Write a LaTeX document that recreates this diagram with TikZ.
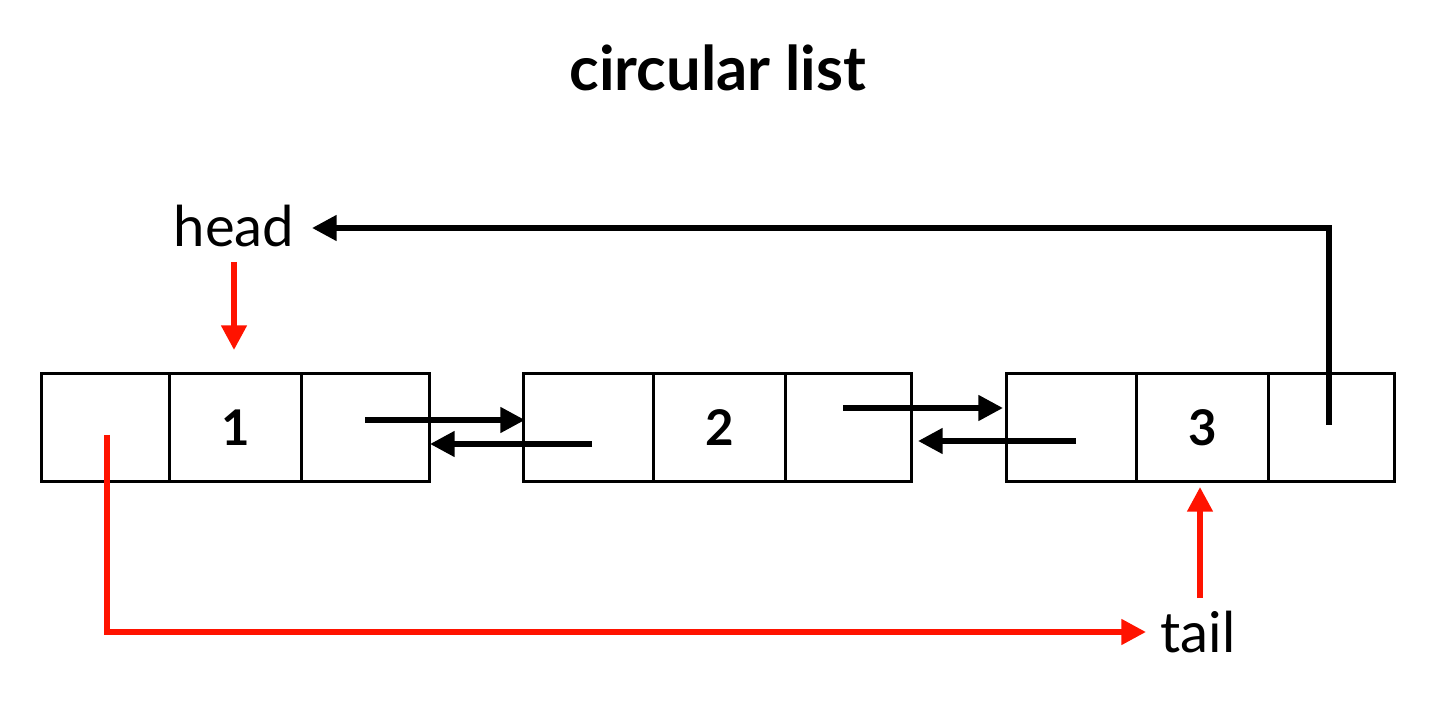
\documentclass[tikz,border=0pt]{standalone}
\usepackage{fontspec}
\setmainfont{Lato}
\usetikzlibrary{arrows.meta}
\begin{document}
\begin{tikzpicture}[x=0.02cm,y=-0.02cm,
  cell/.style={draw,line width=1.8pt,minimum width=#1*0.02cm,minimum height=108*0.02cm,inner sep=0,anchor=north west},
  num/.style={font=\bfseries\fontsize{28}{30}\selectfont},
  lbl/.style={font=\fontsize{32}{34}\selectfont},
  blk/.style={line width=3.2pt,-{Triangle[length=14pt,width=14pt]}},
  redarr/.style={line width=3.2pt,red!85!orange,-{Triangle[length=14pt,width=14pt]}}]
\useasboundingbox (0,0) rectangle (1436,712);
\node[font=\bfseries\fontsize{35}{37}\selectfont] (title) at (718,68) {circular list};
% node 1
\node[cell=128] (a1) at (40,372) {};
\node[cell=132,num] (a2) at (168,372) {1};
\node[cell=128] (a3) at (300,372) {};
% node 2
\node[cell=130] (b1) at (522,372) {};
\node[cell=132,num] (b2) at (652,372) {2};
\node[cell=126] (b3) at (784,372) {};
% node 3
\node[cell=130] (c1) at (1005,372) {};
\node[cell=132,num] (c2) at (1135,372) {3};
\node[cell=126] (c3) at (1267,372) {};
\node[lbl] (head) at (234,226) {head};
\node[lbl] (tail) at (1198,632) {tail};
\coordinate (h0) at (234,262); \coordinate (h1) at (234,350);
\coordinate (t0) at (1200,598); \coordinate (t1) at (1200,487);
\coordinate (p0) at (1329,425); \coordinate (p1) at (1329,228); \coordinate (p2) at (312,228);
\coordinate (q0) at (107,435); \coordinate (q1) at (107,632); \coordinate (q2) at (1146,632);
\coordinate (l1) at (365,420); \coordinate (l2) at (525,420);
\coordinate (l3) at (592,444); \coordinate (l4) at (430,444);
\coordinate (l5) at (843,408); \coordinate (l6) at (1003,408);
\coordinate (l7) at (1076,441); \coordinate (l8) at (918,441);
\draw[redarr] (h0) -- (h1);
\draw[redarr] (t0) -- (t1);
\draw[blk] (p0) -- (p1) -- (p2);
\draw[redarr] (q0) -- (q1) -- (q2);
\draw[blk] (l1) -- (l2);
\draw[blk] (l3) -- (l4);
\draw[blk] (l5) -- (l6);
\draw[blk] (l7) -- (l8);
\end{tikzpicture}
\end{document}
